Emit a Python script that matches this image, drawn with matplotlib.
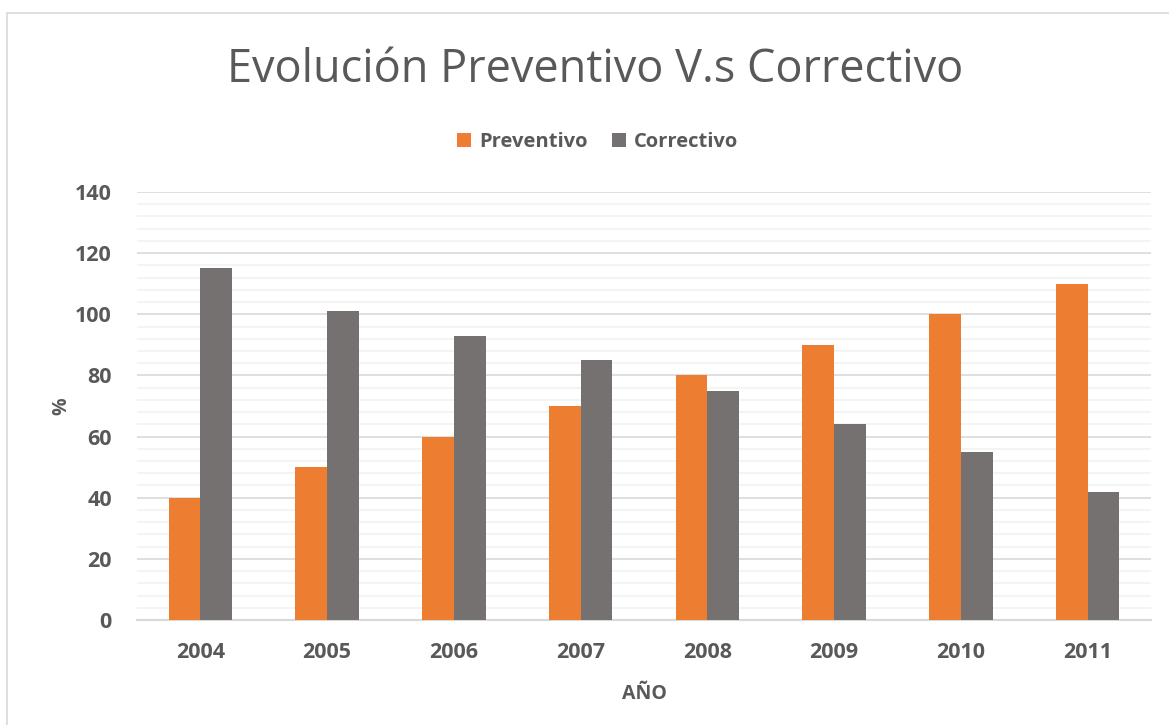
import numpy as np
import matplotlib.pyplot as plt
from matplotlib.patches import Rectangle

years = ['2004', '2005', '2006', '2007', '2008', '2009', '2010', '2011']
preventivo = [40, 50, 60, 70, 80, 90, 100, 110]
correctivo = [115, 101, 93, 85, 75, 64, 55, 42]

plt.rcParams['font.family'] = ['Open Sans', 'DejaVu Sans']
txt = '#595959'

fig = plt.figure(figsize=(11.69, 7.25), dpi=100)
ax = fig.add_axes([137 / 1169, 105 / 725, 1014 / 1169, 428 / 725])

# marco del gráfico
fig.patches.append(Rectangle((7 / 1169, -0.1), 1.2, 1.1 - 13 / 725, transform=fig.transFigure,
                             fill=False, edgecolor='#d9d9d9', linewidth=1.2))

x = np.arange(len(years))
w = 0.25
ax.bar(x - w / 2, preventivo, w, color='#ed7d31', label='Preventivo', zorder=3)
ax.bar(x + w / 2, correctivo, w, color='#767171', label='Correctivo', zorder=3)

ax.set_xlim(-0.5, len(years) - 0.5)
ax.set_ylim(0, 140)
ax.set_yticks(np.arange(0, 141, 20))
ax.set_yticks(np.arange(0, 141, 4), minor=True)
ax.grid(axis='y', which='major', color='#d9d9d9', linewidth=1.2, zorder=0)
ax.grid(axis='y', which='minor', color='#f2f2f2', linewidth=1.2, zorder=0)
ax.set_xticks(x)
ax.set_xticklabels(years)
ax.tick_params(axis='both', which='both', length=0, labelsize=15.5, labelcolor=txt)
ax.tick_params(axis='x', pad=16)
ax.tick_params(axis='y', pad=18)
for lab in ax.get_xticklabels() + ax.get_yticklabels():
    lab.set_fontweight('bold')

for s in ['top', 'right', 'left']:
    ax.spines[s].set_visible(False)
ax.spines['bottom'].set_color('#d9d9d9')
ax.spines['bottom'].set_linewidth(1.5)

ax.set_xlabel('AÑO', fontsize=14, fontweight='bold', color=txt, labelpad=15)
ax.set_ylabel('%', fontsize=14, fontweight='bold', color=txt, labelpad=3)

fig.text(595 / 1169, 1 - 70 / 725, 'Evolución Preventivo V.s Correctivo', ha='center', va='center',
         fontsize=32.5, color=txt)

ax.legend(loc='center', bbox_to_anchor=(598 / 1169, (725 - 142) / 725), bbox_transform=fig.transFigure,
          ncol=2, frameon=False, prop={'size': 14.5, 'weight': 'bold'}, labelcolor=txt,
          handlelength=0.7, handleheight=0.7, handletextpad=0.4, columnspacing=1.2)

fig.savefig('out.png', dpi=100)
